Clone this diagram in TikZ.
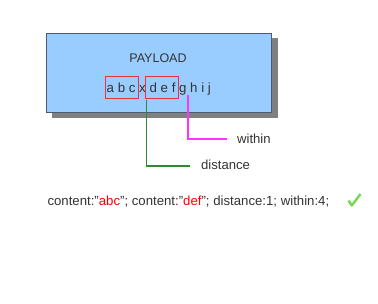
\documentclass[tikz,border=0pt]{standalone}
\usepackage{fontspec}
\setmainfont{Liberation Sans}
\definecolor{payblue}{HTML}{99CCFF}
\definecolor{borderblue}{HTML}{4A5C74}
\definecolor{shadowgray}{HTML}{808080}
\definecolor{textgray}{HTML}{333333}
\definecolor{boxred}{HTML}{E8333F}
\definecolor{distgreen}{HTML}{2E8B2E}
\definecolor{withinmag}{HTML}{FF33FF}
\definecolor{checkgreen}{HTML}{77D655}
\begin{document}
\begin{tikzpicture}[x=1pt,y=-1pt,
  txt/.style={text=textgray, inner sep=0pt, font=\fontsize{13.1}{15}\selectfont},
  redbox/.style={draw=boxred, line width=1pt, inner sep=0pt, minimum height=22pt, anchor=north west},
  conn/.style={line width=1.2pt}]
\useasboundingbox (0,0) rectangle (378,303);
\node[fill=shadowgray, inner sep=0pt, minimum width=226pt, minimum height=79.5pt, anchor=north west] (shadow) at (51.5,38) {};
\node[draw=borderblue, fill=payblue, line width=1pt, inner sep=0pt, minimum width=225pt, minimum height=79.5pt, anchor=north west] (payload) at (45.5,32.5) {};
\node[txt, font=\fontsize{12.5}{15}\selectfont, anchor=base] (title) at (158,62) {PAYLOAD};
\node[txt, font=\fontsize{13.3}{15}\selectfont, anchor=base west] (letters) at (106.5,92) {a b c x d e f g h i j};
\node[redbox, minimum width=33.5pt] (m1) at (104.5,76) {};
\node[redbox, minimum width=33pt] (m2) at (144.5,76) {};
\node[txt, anchor=base west] (dlabel) at (201,169) {distance};
\node[txt, anchor=base west] (wlabel) at (237,143) {within};
\coordinate (dend) at (190,166);
\coordinate (gpt) at (188,95);
\coordinate (wend) at (227,139);
\draw[conn, distgreen] ([xshift=1.6pt,yshift=-0.5pt]m2.south west) |- (dend);
\draw[conn, withinmag] (gpt) |- (wend);
\node[txt, font=\fontsize{13.2}{15}\selectfont, anchor=base west] (rule) at (47.3,205) {content:”\textcolor{red}{abc}”; content:”\textcolor{red}{def}”; distance:1; within:4;};
\draw[checkgreen, line width=2.4pt, line join=round] (348.5,200.5) -- (351.8,205.5) -- (360.5,194);
\end{tikzpicture}
\end{document}
